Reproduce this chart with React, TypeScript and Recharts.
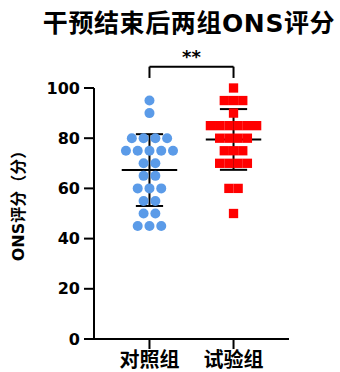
import { ScatterChart, Scatter, XAxis, YAxis, ReferenceLine } from "recharts";

const groups = ["对照组", "试验组"];
const controlScores = [
  95, 90, 80, 80, 80, 80, 75, 75, 75, 75, 75, 70, 70, 65, 65, 60, 60, 60, 55,
  55, 50, 50, 45, 45, 45,
];
const trialScores = [
  100, 95, 95, 95, 90, 85, 85, 85, 85, 85, 85, 80, 80, 80, 80, 75, 75, 75, 70,
  70, 70, 70, 60, 60, 50,
];
const groupMeans = [67.3, 79.5];
const groupSds = [14.3, 12.1];
const yTicks = [0, 20, 40, 60, 80, 100];
const significance = "**";

const FONT = "'DejaVu Sans', 'Noto Sans CJK SC', sans-serif";
const BLUE = "#5b9be8";
const RED = "#ff0000";

// spread equal scores side by side around the group's position
function swarm(values: number[], group: number, step: number) {
  const rows = new Map<number, number>();
  values.forEach((v) => rows.set(v, (rows.get(v) ?? 0) + 1));
  const pts: { x: number; y: number }[] = [];
  rows.forEach((n, v) => {
    for (let i = 0; i < n; i++) {
      pts.push({ x: group + (i - (n - 1) / 2) * step, y: v });
    }
  });
  return pts;
}

const controlPts = swarm(controlScores, 0, 0.14);
const trialPts = swarm(trialScores, 1, 0.11);

const Dot = (p: any) => <circle cx={p.cx} cy={p.cy} r={5} fill={BLUE} />;
const Square = (p: any) => (
  <rect x={p.cx - 4.65} y={p.cy - 4.65} width={9.3} height={9.3} fill={RED} />
);

const YLabel = () => (
  <text
    x={18}
    y={202}
    transform="rotate(-90 18 202)"
    textAnchor="middle"
    dominantBaseline="central"
    fontFamily={FONT}
    fontWeight="bold"
    fontSize={16}
    fill="#000"
  >
    ONS评分（分）
  </text>
);

const line = { stroke: "#000", strokeWidth: 2 };

export default function App() {
  return (
    <div style={{ position: "absolute", left: 0, top: 0, width: 340, height: 372 }}>
      <div
        style={{
          position: "absolute",
          left: 189,
          top: 8,
          transform: "translateX(-50%)",
          whiteSpace: "nowrap",
          fontFamily: FONT,
          fontWeight: "bold",
          fontSize: 25,
          letterSpacing: 0.6,
          lineHeight: "32px",
          color: "#000",
        }}
      >
        干预结束后两组ONS评分
      </div>
      <ScatterChart
        width={340}
        height={372}
        margin={{ top: 88, right: 51, bottom: 0, left: 0 }}
      >
        <XAxis
          type="number"
          dataKey="x"
          domain={[-0.66, 1.66]}
          ticks={[0, 1]}
          tickFormatter={(i: number) => groups[i]}
          height={33}
          tickSize={10}
          tickMargin={4}
          axisLine={line}
          tickLine={line}
          tick={{ fontFamily: FONT, fontWeight: "bold", fontSize: 20, fill: "#000" }}
        />
        <YAxis
          type="number"
          dataKey="y"
          domain={[0, 100]}
          ticks={yTicks}
          width={94}
          tickSize={10}
          tickMargin={4}
          axisLine={line}
          tickLine={line}
          tick={{ fontFamily: FONT, fontWeight: "bold", fontSize: 16, fill: "#000" }}
          label={<YLabel />}
        />
        <Scatter data={controlPts} shape={Dot} isAnimationActive={false} />
        <Scatter data={trialPts} shape={Square} isAnimationActive={false} />
        {groupMeans.map((m, g) => (
          <ReferenceLine
            key={`mean${g}`}
            segment={[{ x: g - 0.33, y: m }, { x: g + 0.33, y: m }]}
            {...line}
            ifOverflow="visible"
          />
        ))}
        {groupMeans.map((m, g) => (
          <ReferenceLine
            key={`sd${g}`}
            segment={[{ x: g, y: m - groupSds[g] }, { x: g, y: m + groupSds[g] }]}
            {...line}
            ifOverflow="visible"
          />
        ))}
        {groupMeans.flatMap((m, g) =>
          [m - groupSds[g], m + groupSds[g]].map((v, k) => (
            <ReferenceLine
              key={`cap${g}${k}`}
              segment={[{ x: g - 0.162, y: v }, { x: g + 0.162, y: v }]}
              {...line}
              ifOverflow="visible"
            />
          ))
        )}
        {/* significance bracket between the two groups */}
        <ReferenceLine
          segment={[{ x: 0, y: 104 }, { x: 0, y: 108.5 }]}
          {...line}
          ifOverflow="visible"
        />
        <ReferenceLine
          segment={[{ x: 1, y: 104 }, { x: 1, y: 108.5 }]}
          {...line}
          ifOverflow="visible"
        />
        <ReferenceLine
          segment={[{ x: 0, y: 108.5 }, { x: 1, y: 108.5 }]}
          {...line}
          ifOverflow="visible"
          label={{
            value: significance,
            position: "top",
            offset: 4,
            fontFamily: FONT,
            fontWeight: "bold",
            fontSize: 18,
            fill: "#000",
          }}
        />
      </ScatterChart>
    </div>
  );
}
